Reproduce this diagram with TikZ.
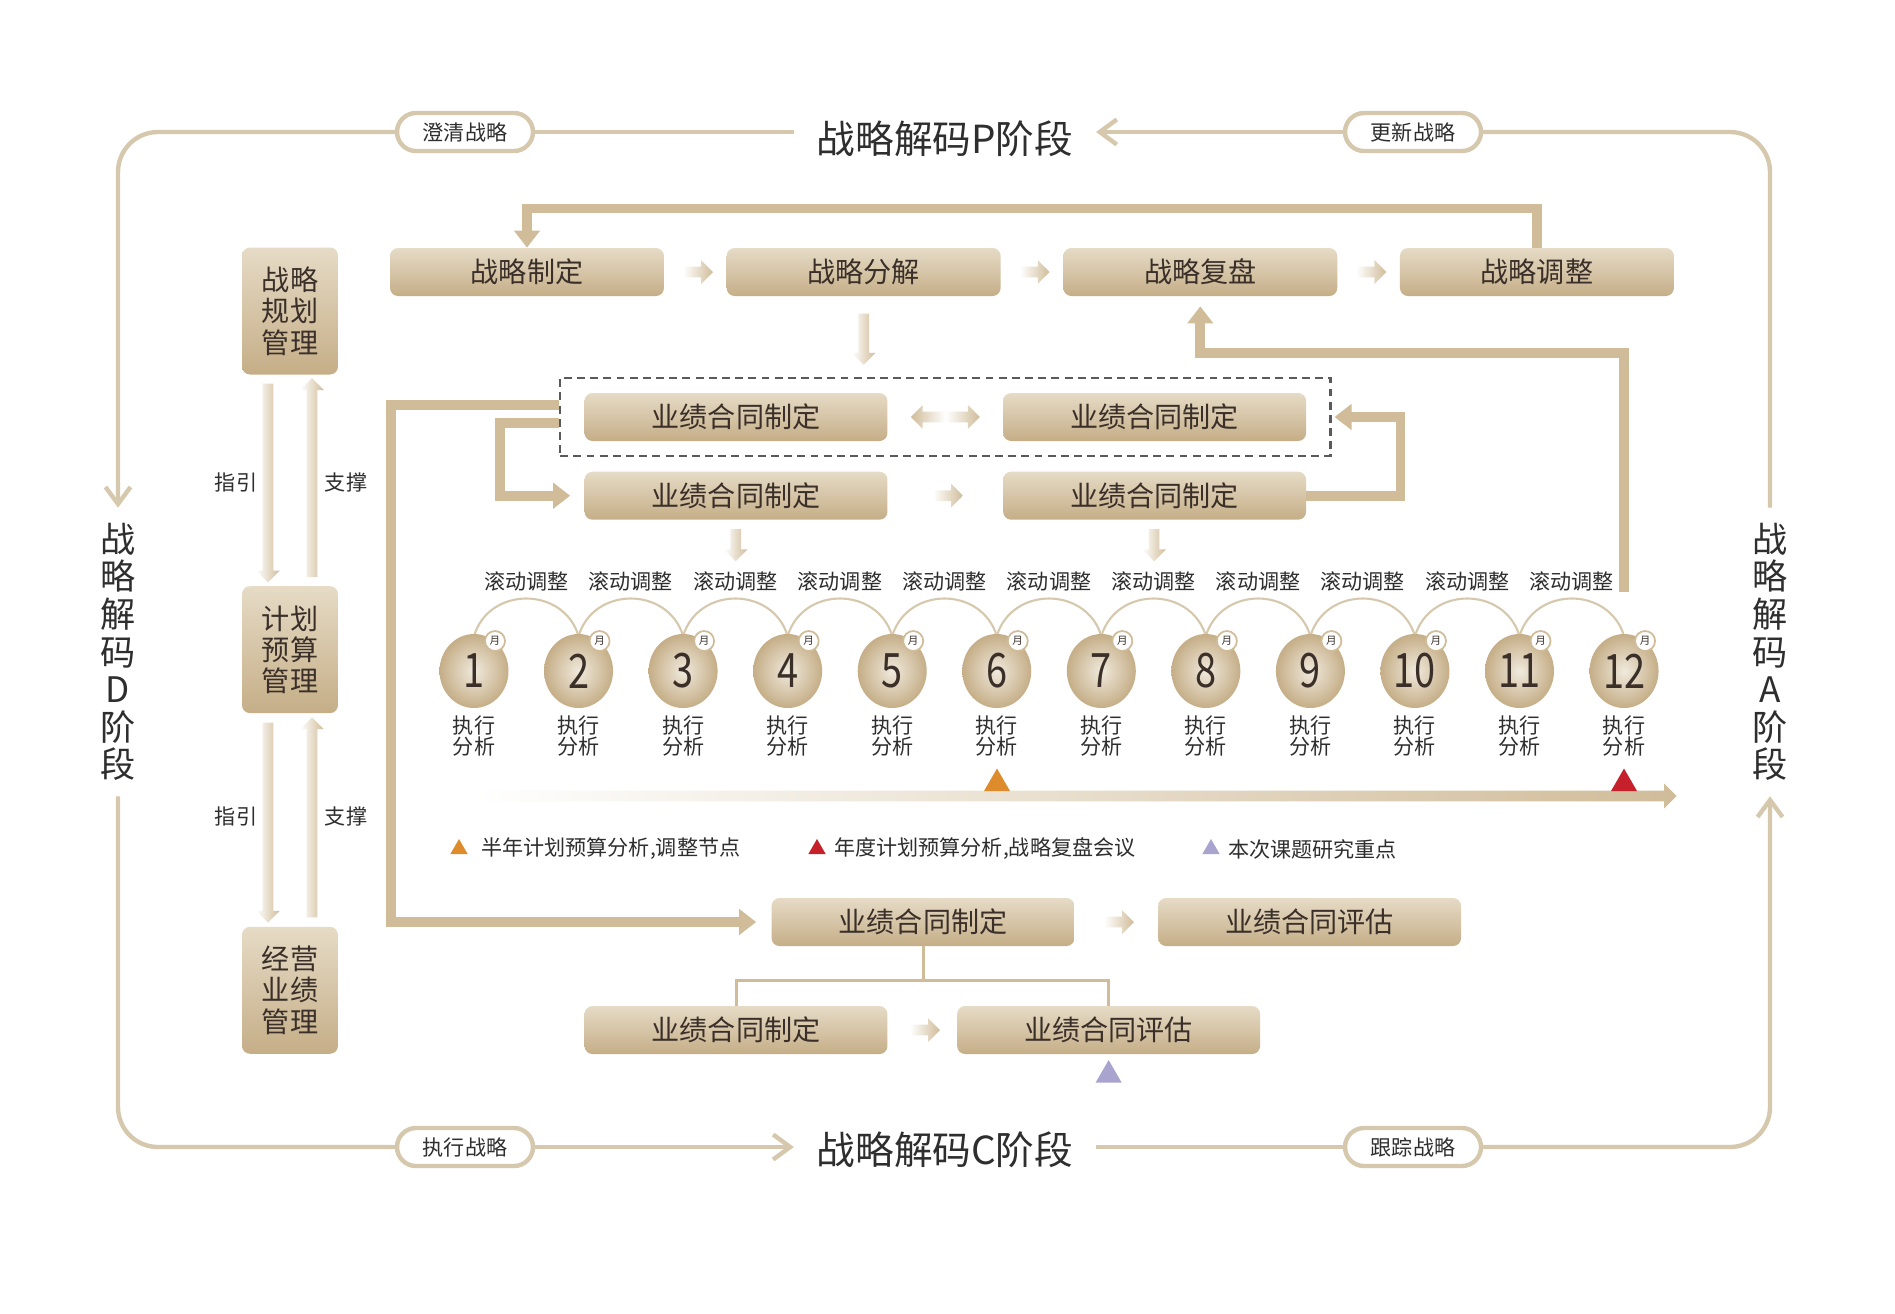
\documentclass[tikz,border=0pt]{standalone}
\usepackage{fontspec}
\setmainfont{Noto Sans CJK SC}
\newfontfamily\monthfont[FakeStretch=0.8]{Noto Sans CJK SC}
\usetikzlibrary{positioning, shapes.geometric, shapes.misc, shapes.arrows, arrows.meta, calc, fit}

\definecolor{loopc}{HTML}{D6C8AD}
\definecolor{barc}{HTML}{D0BC99}
\definecolor{boxtop}{HTML}{E6DBC6}
\definecolor{boxbot}{HTML}{C5AE87}
\definecolor{ink}{HTML}{3A3029}
\definecolor{txtc}{HTML}{2E2E2E}
\definecolor{dashc}{HTML}{5A5A5A}
\definecolor{triO}{HTML}{DE8B2C}
\definecolor{triR}{HTML}{C6202B}
\definecolor{triP}{HTML}{A9A4CF}

\tikzset{
  stagebox/.style={rounded corners=0.16cm, top color=boxtop, bottom color=boxbot, text=ink,
    minimum width=5.48cm, minimum height=0.96cm, inner sep=0, font=\fontsize{16}{16}\selectfont},
  dealbox/.style={stagebox, minimum width=6.06cm},
  mgmtbox/.style={stagebox, minimum width=1.92cm, minimum height=2.54cm, align=center,
    font=\fontsize{16}{17.8}\selectfont},
  pill/.style={rounded rectangle, draw=loopc, line width=2.5pt, fill=white, text=txtc,
    minimum width=2.72cm, minimum height=0.76cm, inner sep=0, font=\fontsize{12}{12}\selectfont},
  phasetitle/.style={text=txtc, font=\fontsize{22}{22}\selectfont, inner xsep=0.45cm},
  sidephase/.style={text=txtc, align=center, font=\fontsize{20}{21.4}\selectfont, inner ysep=0.3cm},
  loopline/.style={draw=loopc, line width=2.5pt, rounded corners=0.8cm},
  barb/.style={-{Straight Barb[length=0.34cm, width=0.5cm]}},
  fadear/.style={single arrow, left color=white, middle color=barc!60!white, right color=barc,
    inner xsep=0, inner ysep=0.1cm, single arrow head extend=0.13cm, minimum height=0.6cm},
  fadedbl/.style={double arrow, left color=barc, right color=barc, middle color=white, inner xsep=0,
    inner ysep=0.1cm, double arrow head extend=0.13cm, minimum height=1.38cm},
  flowline/.style={draw=barc, line width=5.5pt, -{Triangle[width=0.5cm, length=0.34cm]}},
  treeline/.style={draw=barc, line width=1.7pt},
  arcline/.style={draw=loopc, line width=1.2pt},
  monthball/.style={ellipse, inner sep=0, minimum width=1.38cm, minimum height=1.48cm,
    inner color=boxtop!60!white, outer color=boxbot, text=ink, font=\monthfont\fontsize{27}{27}\selectfont},
  badge/.style={circle, draw=barc, line width=1pt, fill=white, inner sep=0, minimum size=0.4cm,
    text=ink, font=\fontsize{6}{6}\selectfont},
  lbl/.style={text=txtc, font=\fontsize{12}{12.5}\selectfont},
  marktri/.style={regular polygon, regular polygon sides=3, inner sep=0, minimum size=0.6cm},
}

\begin{document}
\begin{tikzpicture}[x=0.02cm, y=-0.02cm]
\useasboundingbox[fill=white] (0,0) rectangle (1895,1313);

\node[phasetitle] (tP) at (945,139) {战略解码P阶段};
\node[phasetitle] (tC) at (945,1150) {战略解码C阶段};
\node[sidephase] (tD) at (118,652) {战\\略\\解\\码\\D\\阶\\段};
\node[sidephase] (tA) at (1770,652) {战\\略\\解\\码\\A\\阶\\段};
\node[pill] (pClar) at (465,132) {澄清战略};
\node[pill] (pUpd) at (1413,132) {更新战略};
\node[pill] (pExe) at (465,1147) {执行战略};
\node[pill] (pTrk) at (1413,1147) {跟踪战略};
\draw[loopline] (tP.west |- pClar) -- (pClar.east);
\draw[loopline, barb] (pClar.west) -| (tD.north);
\draw[loopline] (tD.south) |- (pExe.west);
\draw[loopline, barb] (pExe.east) -- (tC.west |- pExe);
\draw[loopline] (tC.east |- pExe) -- (pTrk.west);
\draw[loopline, barb] (pTrk.east) -| (tA.south);
\draw[loopline] (tA.north) |- (pUpd.east);
\draw[loopline, barb] (pUpd.west) -- (tP.east |- pUpd);

\node[stagebox] (s1) at (527,272) {战略制定};
\node[stagebox, right=1.24cm of s1] (s2) {战略分解};
\node[stagebox, right=1.24cm of s2] (s3) {战略复盘};
\node[stagebox, right=1.24cm of s3] (s4) {战略调整};
\path (s1) -- (s2) node[midway, fadear] (a12) {};
\path (s2) -- (s3) node[midway, fadear] (a23) {};
\path (s3) -- (s4) node[midway, fadear] (a34) {};
\draw[flowline] (s4.north) -- ++(0,-39) -| (s1.north);

\node[mgmtbox] (m1) at (290,311) {战略\\规划\\管理};
\node[mgmtbox, below=4.22cm of m1] (m2) {计划\\预算\\管理};
\node[mgmtbox, below=4.26cm of m2] (m3) {经营\\业绩\\管理};
\path ($(m1.south)+(-22,0)$) -- ($(m2.north)+(-22,0)$) node[midway, fadear, rotate=-90, minimum height=3.98cm] (g1) {};
\path ($(m2.north)+(22,0)$) -- ($(m1.south)+(22,0)$) node[midway, fadear, rotate=90, minimum height=3.98cm] (u1) {};
\path ($(m2.south)+(-22,0)$) -- ($(m3.north)+(-22,0)$) node[midway, fadear, rotate=-90, minimum height=4.0cm] (g2) {};
\path ($(m3.north)+(22,0)$) -- ($(m2.south)+(22,0)$) node[midway, fadear, rotate=90, minimum height=4.0cm] (u2) {};
\node[lbl] (gd1) at (236,482) {指引};
\node[lbl] (sp1) at (346,482) {支撑};
\node[lbl] (gd2) at (236,816) {指引};
\node[lbl] (sp2) at (346,816) {支撑};

\node[dealbox] (c1) at (736,417) {业绩合同制定};
\node[dealbox, right=2.3cm of c1] (c2) {业绩合同制定};
\node[dealbox, below=0.6cm of c1] (c3) {业绩合同制定};
\node[dealbox, below=0.6cm of c2] (c4) {业绩合同制定};
\node[draw=dashc, line width=1.2pt, dash pattern=on 4.5pt off 3pt, fit=(c1)(c2), inner xsep=0.48cm, inner ysep=0.3cm] (dash) {};
\path (s2.south) -- (s2.south |- dash.north) node[midway, fadear, rotate=-90, minimum height=1.02cm] (a2d) {};
\path (c1) -- (c2) node[midway, fadedbl] (a1b) {};
\path (c3) -- (c4) node[midway, fadear] (a3b) {};
\draw[flowline, shorten >=0.28cm] ($(dash.west)+(0,6)$) -- ++(-59,0) |- (c3.west);
\draw[flowline, shorten >=0.06cm] (c4.east) -- ++(94,0) |- (dash.east);

\foreach \i in {1,...,11}
  \node[lbl] (roll\i) at ({421.725+104.55*\i},581) {滚动调整};
\foreach \i in {1,...,12}
  \node[lbl, align=center] (ex\i) at ({369.45+104.55*\i},736) {执行\\分析};
\foreach \i in {1,...,11}
  \draw[arcline] ({369.45+104.55*\i},636) .. controls +(15,-50) and +(-15,-50) .. ({474+104.55*\i},636);
\foreach \i in {1,...,12}
  \node[monthball] (mo\i) at ({369.45+104.55*\i},671) {\i};
\foreach \i in {1,...,12}
  \node[badge] (bd\i) at ($(mo\i.center)+(21,-30)$) {月};
\path (c3.south) -- (roll3.north) node[midway, fadear, rotate=-90, minimum height=0.64cm] (a3r) {};
\path (c4.south) -- (roll7.north) node[midway, fadear, rotate=-90, minimum height=0.64cm] (a4r) {};
\draw[flowline, shorten >=0.2cm] ($(mo12.north)+(0,-42)$) -- ++(0,-239) -| (s3.south);

\node[fadear, minimum height=24.06cm, single arrow head extend=0.14cm] (tl) at (1072.5,796) {};
\node[marktri, fill=triO] (half) at (997,783.5) {};
\node[marktri, fill=triR] (year) at (1624,783.5) {};

\node[marktri, minimum size=0.4cm, fill=triO] (lg1) at (459,849) {};
\node[lbl, right=0.2cm of lg1] (lt1) {半年计划预算分析,调整节点};
\node[marktri, minimum size=0.4cm, fill=triR] (lg2) at (817,849) {};
\node[lbl, right=0.1cm of lg2] (lt2) {年度计划预算分析,战略复盘会议};
\node[marktri, minimum size=0.4cm, fill=triP] (lg3) at (1211,849) {};
\node[lbl, right=0.1cm of lg3] (lt3) {本次课题研究重点};

\node[dealbox] (e1) at (923,922) {业绩合同制定};
\node[dealbox, right=1.66cm of e1] (e2) {业绩合同评估};
\node[dealbox] (e3) at (736,1030) {业绩合同制定};
\node[dealbox, right=1.38cm of e3] (e4) {业绩合同评估};
\path (e1) -- (e2) node[midway, fadear] (a12e) {};
\path (e3) -- (e4) node[midway, fadear] (a34e) {};
\draw[flowline, shorten >=0.3cm] ($(dash.west)+(0,-12)$) -- ++(-168,0) |- (e1.west);
\draw[treeline] (e1.south) -- ++(0,34) coordinate (fork) -| (e3.north);
\draw[treeline] (fork) -| (e4.north);
\node[marktri, fill=triP, below=0.1cm of e4] (focus) {};
\end{tikzpicture}
\end{document}
